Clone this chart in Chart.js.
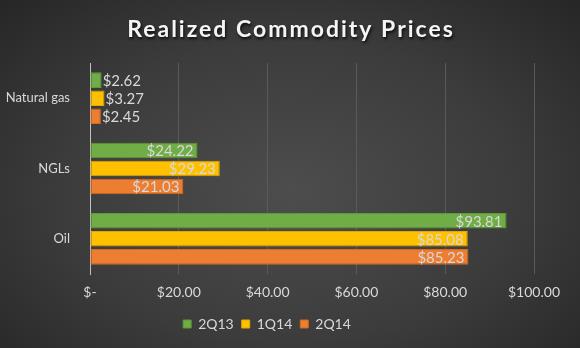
<!DOCTYPE html>
<html>
<head>
<meta charset="utf-8">
<script src="https://cdn.jsdelivr.net/npm/chart.js@4"></script>
<style>
  html, body { margin: 0; padding: 0; }
  body {
    width: 580px; height: 348px; overflow: hidden;
    background: radial-gradient(ellipse at 50% 55%, #4d4d4d 0%, #3c3c3c 55%, #262626 100%);
  }
</style>
</head>
<body>
<canvas id="chart" width="580" height="348"></canvas>
<script>
const categories = ['Natural gas', 'NGLs', 'Oil'];
const seriesNames = ['2Q13', '1Q14', '2Q14'];
const values2Q13 = [2.62, 24.22, 93.81];
const values1Q14 = [3.27, 29.23, 85.08];
const values2Q14 = [2.45, 21.03, 85.23];
const tickValues = [0, 20, 40, 60, 80, 100];
const chartTitle = 'Realized Commodity Prices';

const colors = ['#70AD47', '#FFC000', '#ED7D31'];
const borders = ['#5c9a35', '#e0a800', '#d2691e'];
const textColor = '#d9d9d9';
const fontFamily = 'Lato, "Open Sans", sans-serif';

function money(v) {
  return v === 0 ? '$-' : '$' + v.toFixed(2);
}

// value labels: inside end when the bar is long enough, otherwise just past it
const barLabels = {
  id: 'barLabels',
  afterDatasetsDraw(chart) {
    const ctx = chart.ctx;
    ctx.save();
    ctx.font = '15px ' + fontFamily;
    ctx.fillStyle = textColor;
    ctx.textBaseline = 'middle';
    chart.data.datasets.forEach((ds, i) => {
      chart.getDatasetMeta(i).data.forEach((bar, j) => {
        const text = money(ds.data[j]);
        const w = ctx.measureText(text).width;
        if (bar.x - bar.base > w + 10) {
          ctx.textAlign = 'right';
          ctx.fillText(text, bar.x - 4, bar.y + 1);
        } else {
          ctx.textAlign = 'left';
          ctx.fillText(text, bar.x + 1, bar.y + 1);
        }
      });
    });
    ctx.restore();
  }
};

// spaced-out title with a drop shadow
const shadowTitle = {
  id: 'shadowTitle',
  afterDraw(chart) {
    const ctx = chart.ctx;
    ctx.save();
    ctx.font = 'bold 23px ' + fontFamily;
    ctx.letterSpacing = '2px';
    ctx.textAlign = 'center';
    ctx.textBaseline = 'middle';
    ctx.shadowColor = 'rgba(0,0,0,0.8)';
    ctx.shadowOffsetX = 1;
    ctx.shadowOffsetY = 2;
    ctx.shadowBlur = 3;
    ctx.fillStyle = '#f5f5f5';
    ctx.fillText(chartTitle, chart.width / 2 + 1, 30);
    ctx.restore();
  }
};

const ctx = document.getElementById('chart').getContext('2d');
new Chart(ctx, {
  type: 'bar',
  data: {
    labels: categories,
    datasets: [values2Q13, values1Q14, values2Q14].map((d, i) => ({
      label: seriesNames[i],
      data: d,
      backgroundColor: colors[i],
      borderColor: borders[i],
      borderWidth: 1,
      borderSkipped: false,
      categoryPercentage: 0.77,
      barPercentage: 0.86,
    })),
  },
  options: {
    indexAxis: 'y',
    responsive: false,
    animation: false,
    layout: { padding: { left: 0, right: 46, top: 63, bottom: 7 } },
    scales: {
      x: {
        min: 0,
        max: 100,
        afterBuildTicks(scale) {
          scale.ticks = tickValues.map((v) => ({ value: v }));
        },
        afterFit(scale) { scale.height = 35; },
        ticks: {
          color: textColor,
          font: { family: fontFamily, size: 14 },
          padding: 10,
          callback: (v) => money(v),
        },
        grid: {
          color: (c) => (c.tick && c.tick.value === 0 ? '#bfbfbf' : '#5a5a5a'),
          drawTicks: false,
        },
        border: { display: false },
      },
      y: {
        afterFit(scale) { scale.width = 90; },
        ticks: {
          color: textColor,
          font: { family: fontFamily, size: 13 },
          padding: 12,
        },
        grid: { display: false },
        border: { color: '#bfbfbf' },
      },
    },
    plugins: {
      title: { display: false },
      legend: {
        position: 'bottom',
        labels: {
          color: textColor,
          font: { family: fontFamily, size: 14 },
          boxWidth: 8,
          boxHeight: 8,
          padding: 8,
        },
      },
      tooltip: { enabled: false },
    },
  },
  plugins: [barLabels, shadowTitle],
});
</script>
</body>
</html>
